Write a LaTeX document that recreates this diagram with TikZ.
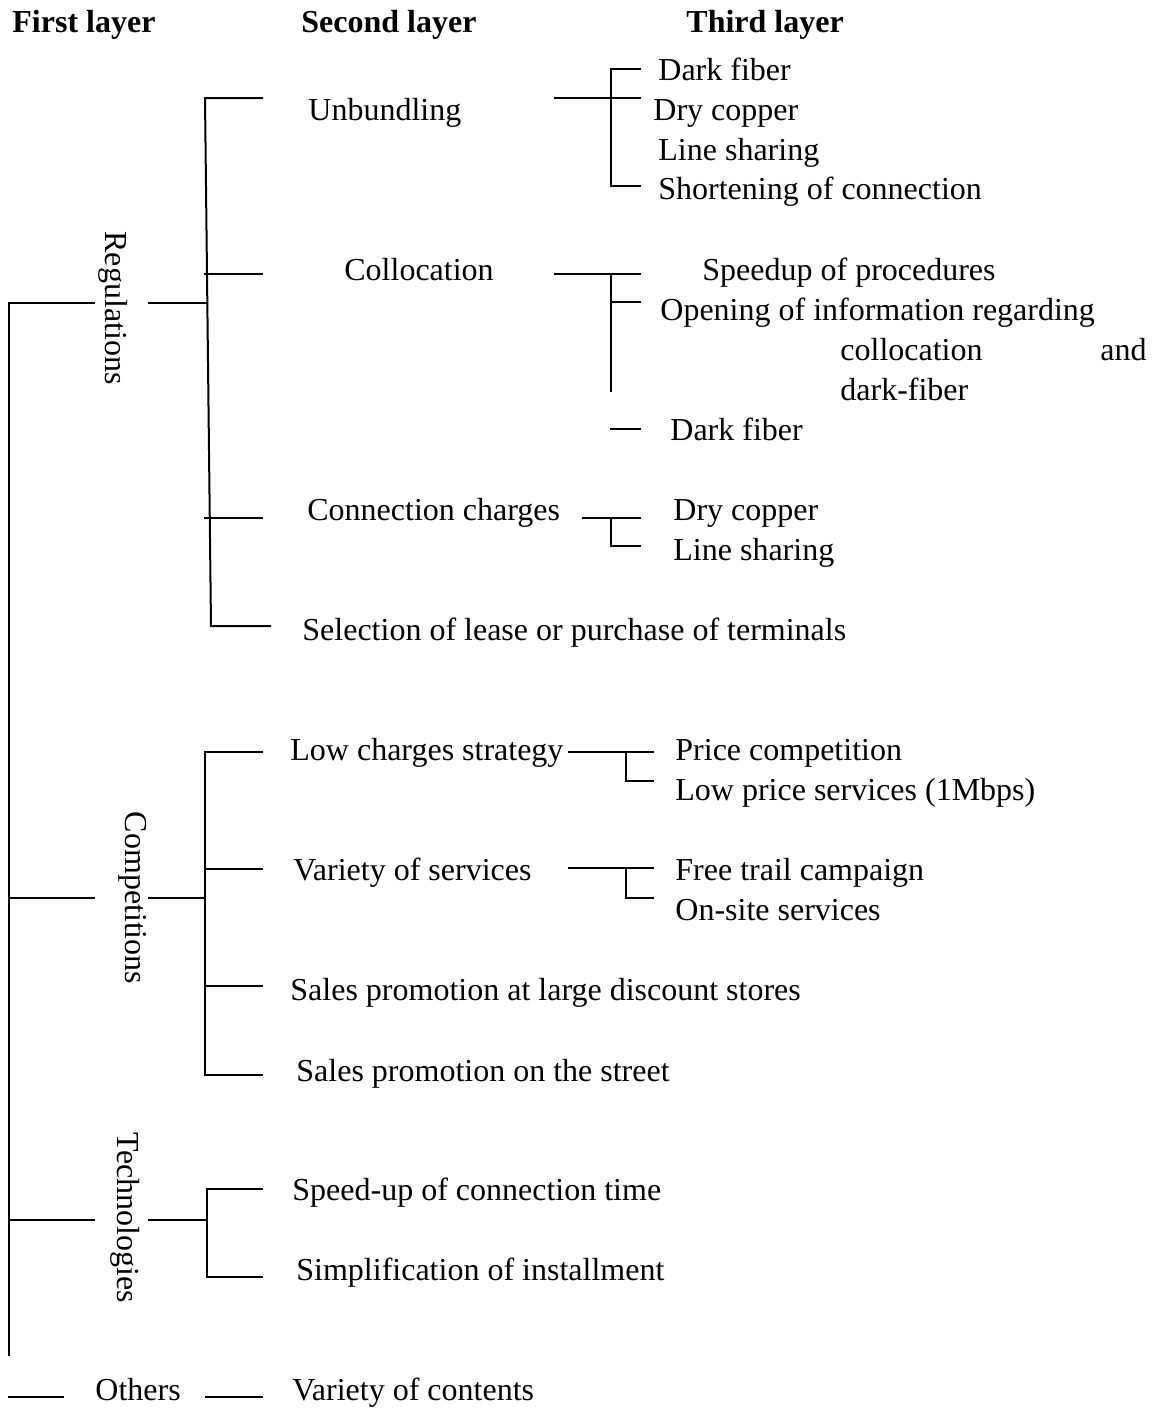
\documentclass[tikz,border=0pt]{standalone}
\usepackage{fontspec}
\setmainfont{Liberation Serif}
\begin{document}
\begin{tikzpicture}[x=0.5pt,y=-0.5pt,
  lbl/.style={anchor=base west,inner sep=0pt,font=\fontsize{16}{19}\selectfont},
  hdr/.style={anchor=base west,inner sep=0pt,font=\fontsize{16}{19}\selectfont\bfseries},
  vlbl/.style={inner sep=0pt,rotate=-90,font=\fontsize{16}{19}\selectfont},
  ln/.style={line width=1pt,line cap=rect}]
\useasboundingbox (0,0) rectangle (1156,1409);
% headers
\node[hdr] (h1) at (12,32) {First layer};
\node[hdr] (h2) at (301,32) {Second layer};
\node[hdr] (h3) at (686,32) {Third layer};
% first layer
\node[vlbl] (reg) at (113,308) {Regulations};
\node[vlbl] (comp) at (133,898) {Competitions};
\node[vlbl] (tech) at (125,1218) {Technologies};
\node[lbl] (oth) at (95,1400) {Others};
% second layer
\node[lbl] (unb) at (308,120) {Unbundling};
\node[lbl] (col) at (344,280) {Collocation};
\node[lbl] (cc) at (307,520) {Connection charges};
\node[lbl] (sel) at (302,640) {Selection of lease or purchase of terminals};
\node[lbl] (low) at (290,760) {Low charges strategy};
\node[lbl] (var) at (293,880) {Variety of services};
\node[lbl] (spl) at (290,1000) {Sales promotion at large discount stores};
\node[lbl] (sps) at (296,1081) {Sales promotion on the street};
\node[lbl] (spd) at (292,1200) {Speed-up of connection time};
\node[lbl] (sim) at (296,1280) {Simplification of installment};
\node[lbl] (voc) at (292,1400) {Variety of contents};
% third layer
\node[lbl] (u1) at (658,80) {Dark fiber};
\node[lbl] (u2) at (653,120) {Dry copper};
\node[lbl] (u3) at (658,160) {Line sharing};
\node[lbl] (u4) at (658,199) {Shortening of connection};
\node[lbl] (c1) at (702,280) {Speedup of procedures};
\node[lbl] (c2) at (660,320) {Opening of information regarding};
\node[lbl] (c2b) at (840,360) {collocation};
\node[lbl] (c2c) at (1100,360) {and};
\node[lbl] (c2d) at (840,400) {dark-fiber};
\node[lbl] (c3) at (670,440) {Dark fiber};
\node[lbl] (k1) at (673,520) {Dry copper};
\node[lbl] (k2) at (673,560) {Line sharing};
\node[lbl] (l1) at (675,760) {Price competition};
\node[lbl] (l2) at (675,800) {Low price services (1Mbps)};
\node[lbl] (v1) at (675,880) {Free trail campaign};
\node[lbl] (v2) at (675,920) {On-site services};
% coordinates
\coordinate (top) at (9,303);
\coordinate (bot) at (9,1355);
\coordinate (rgL) at (94,303);  \coordinate (rgR) at (149,303);
\coordinate (rgB) at (207,303);
\coordinate (cpA) at (9,898);   \coordinate (cpL) at (94,898);
\coordinate (cpR) at (149,898); \coordinate (cpB) at (205,898);
\coordinate (tcA) at (9,1220);  \coordinate (tcL) at (94,1220);
\coordinate (tcR) at (149,1220);\coordinate (tcB) at (207,1220);
\coordinate (otA) at (9,1397);  \coordinate (otB) at (63,1397);
\coordinate (voA) at (206,1397);\coordinate (voB) at (262,1397);
% regulations bracket
\coordinate (rb1) at (205,98);  \coordinate (rt1) at (262,98);
\coordinate (rb2) at (205,274); \coordinate (rt2) at (262,274);
\coordinate (rb3) at (205,518); \coordinate (rt3) at (262,518);
\coordinate (rb4) at (211,626); \coordinate (rt4) at (270,626);
% unbundling sub
\coordinate (ua) at (555,98);  \coordinate (ub) at (640,98);
\coordinate (uv1) at (611,69); \coordinate (ut1) at (640,69);
\coordinate (uv2) at (611,186);\coordinate (ut2) at (640,186);
% collocation sub
\coordinate (ca) at (555,274); \coordinate (cb) at (640,274);
\coordinate (cv1) at (611,274);\coordinate (cv2) at (611,391);
\coordinate (cv3) at (611,302);\coordinate (ct3) at (640,302);
\coordinate (cd1) at (611,429);\coordinate (cd2) at (640,429);
% connection charges sub
\coordinate (ka) at (583,518); \coordinate (kb) at (640,518);
\coordinate (kv) at (611,518); \coordinate (kc) at (611,546);
\coordinate (kt) at (640,546);
% competitions bracket
\coordinate (pb1) at (205,752); \coordinate (pt1) at (262,752);
\coordinate (pb2) at (205,869); \coordinate (pt2) at (262,869);
\coordinate (pb3) at (205,986); \coordinate (pt3) at (262,986);
\coordinate (pb4) at (205,1075);\coordinate (pt4) at (262,1075);
\coordinate (la) at (569,752); \coordinate (lb) at (653,752);
\coordinate (lv) at (626,752); \coordinate (lc) at (626,781);
\coordinate (lt) at (653,781);
\coordinate (va) at (569,868); \coordinate (vb) at (653,868);
\coordinate (vv) at (626,868); \coordinate (vc) at (626,898);
\coordinate (vt) at (653,898);
% technologies bracket
\coordinate (tb1) at (207,1189); \coordinate (tt1) at (262,1189);
\coordinate (tb2) at (207,1277); \coordinate (tt2) at (262,1277);
% drawing
\draw[ln] (top) -- (bot);
\draw[ln] (top) -- (rgL); \draw[ln] (rgR) -- (rgB);
\draw[ln] (cpA) -- (cpL); \draw[ln] (cpR) -- (cpB);
\draw[ln] (tcA) -- (tcL); \draw[ln] (tcR) -- (tcB);
\draw[ln] (otA) -- (otB); \draw[ln] (voA) -- (voB);
\draw[ln] (rt1) -- (rb1) -- (rb4) -- (rt4);
\draw[ln] (rb2) -- (rt2); \draw[ln] (rb3) -- (rt3);
\draw[ln] (ua) -- (ub); \draw[ln] (ut1) -- (uv1) -- (uv2) -- (ut2);
\draw[ln] (ca) -- (cb); \draw[ln] (cv1) -- (cv2); \draw[ln] (cv3) -- (ct3);
\draw[ln] (cd1) -- (cd2);
\draw[ln] (ka) -- (kb); \draw[ln] (kv) -- (kc) -- (kt);
\draw[ln] (pt1) -- (pb1) -- (pb4) -- (pt4);
\draw[ln] (pb2) -- (pt2); \draw[ln] (pb3) -- (pt3);
\draw[ln] (la) -- (lb); \draw[ln] (lv) -- (lc) -- (lt);
\draw[ln] (va) -- (vb); \draw[ln] (vv) -- (vc) -- (vt);
\draw[ln] (tt1) -- (tb1) -- (tb2) -- (tt2);
\end{tikzpicture}
\end{document}
